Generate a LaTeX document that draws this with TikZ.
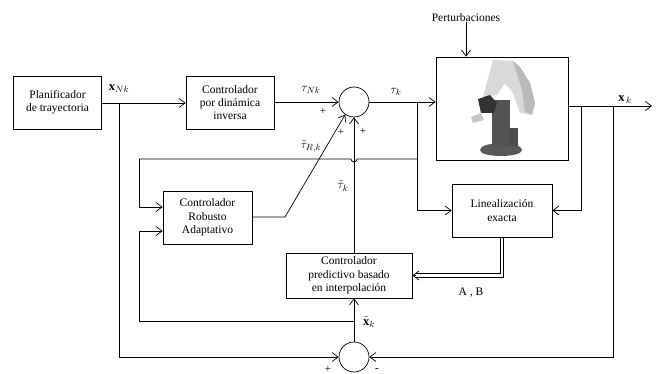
\documentclass[tikz,border=0pt]{standalone}
\usepackage{fontspec}
\setmainfont{Liberation Serif}
\usetikzlibrary{arrows.meta,calc}
\begin{document}
\begin{tikzpicture}[x=1pt,y=-1pt,line width=0.7pt,
  blk/.style={draw,rectangle,align=center,font=\fontsize{11.5}{13.3}\selectfont,inner sep=1pt},
  sumc/.style={draw,circle,minimum size=30pt,inner sep=0pt},
  arr/.style={-{Straight Barb[length=6pt,width=9pt]}},
  lbl/.style={font=\fontsize{12.5}{13}\selectfont,inner sep=0pt},
  sgn/.style={font=\fontsize{11}{12}\selectfont,inner sep=0pt}]
\useasboundingbox (0,0) rectangle (656,374);
% blocks
\node[blk,minimum width=88pt,minimum height=53pt] (plan) at (57.5,102.5) {Planificador\\de trayectoria};
\node[blk,minimum width=88pt,minimum height=53pt] (dyn) at (230,102.5) {Controlador\\por dinámica\\inversa};
\node[sumc] (s1) at (354,102) {};
\node[draw,rectangle,minimum width=132pt,minimum height=103pt,inner sep=0pt] (plant) at (502,108.5) {};
\node[blk,minimum width=100pt,minimum height=53pt] (lin) at (502,210.5) {Linealización\\exacta};
\node[blk,minimum width=89pt,minimum height=53pt] (rob) at (207.5,217.5) {Controlador\\Robusto\\Adaptativo};
\node[blk,minimum width=126pt,minimum height=45pt] (pred) at (349,275.5) {Controlador\\predictivo basado\\en interpolación};
\node[sumc] (s2) at (354,357) {};
\node[lbl,font=\fontsize{11.5}{13}\selectfont] (pert) at (466,18) {Perturbaciones};
% robot sketch inside the plant
\fill[gray!70!black] (480,150) .. controls (480,141) and (522,141) .. (522,150) .. controls (522,158) and (480,158) .. (480,150) -- cycle;
\fill[gray!65!black] (492,100) rectangle (510,147);
\fill[gray!60!black] (510,128) rectangle (518,146);
\fill[gray!30] (483,97) -- (493,60) -- (513,61) -- (520,67) -- (530,83) -- (535,103) -- (532,115) -- (520,113) -- (513,93) -- (508,87) -- (503,86) -- (497,95) -- cycle;
\fill[gray!55] (513,61) -- (520,67) -- (530,83) -- (535,103) -- (532,115) -- (525,112) -- (522,90) -- cycle;
\fill[white] (501,92) -- (504,84) -- (508,87) -- (510,95) -- cycle;
\fill[black!80] (478,99) -- (490,95) -- (497,103) -- (494,113) -- (481,113) -- cycle;
\fill[gray!45] (471,117) -- (481,113) -- (484,120) -- (473,123) -- cycle;
% output coordinates
\coordinate (outend) at (652,106);
\coordinate (b1) at (581,106);
\coordinate (b2) at (613,106);
\coordinate (tb) at (417,102);
\coordinate (pb) at (119,103);
\coordinate (rb) at (139,159);
\coordinate (xb) at (354,321);
\coordinate (rk) at (285,217);
% main path
\draw[arr] (plan.east |- pb) -- (dyn.west |- pb);
\draw[arr] (dyn.east |- s1.west) -- (s1.west);
\draw[arr] (s1.east) -- (s1.east -| plant.west);
\draw[arr] (plant.east |- outend) -- (outend);
\draw[arr] (pert.south) -- (pert.south |- plant.north);
% feedback branches
\draw[arr] (b1) |- (lin.east);
\draw[arr] (b2) |- (s2.east);
\draw[arr] (tb) |- (lin.west);
\draw (417,159) -- (357,159) arc[start angle=0,end angle=180,radius=3] -- (rb);
\draw[arr] (rb) |- (rob.west |- 0,207);
\draw[arr] (rob.east |- rk) -- (rk) -- (s1.235);
\draw[arr] (pred.north -| s1) -- (s1.south);
\draw[arr] (s2.north) -- (s2.north |- pred.south);
\draw[arr] (xb) -| (139,231) -- (rob.west |- 0,231);
\draw[arr] (pb) |- (s2.west);
% double line A,B
\draw ($(lin.south)+(-1.8,0)$) |- ($(pred.east)+(3,-1.8)$);
\draw ($(lin.south)+(1.8,0)$) |- ($(pred.east)+(3,1.8)$);
\draw[arr] ($(pred.east)+(4,0)$) -- (pred.east);
% labels
\node[lbl] (lxn) at (119,89) {$\mathbf{x}_{Nk}$};
\node[lbl] (ltn) at (311,90) {$\tau_{Nk}$};
\node[lbl] (ltk) at (396,92) {$\tau_{k}$};
\node[lbl] (lxk) at (625,100) {$\mathbf{x}_{\,k}$};
\node[lbl] (ltr) at (311,146) {$\tilde{\tau}_{R,k}$};
\node[lbl] (ltt) at (343,186) {$\tilde{\tau}_{k}$};
\node[lbl] (lxt) at (369,322) {$\tilde{\mathbf{x}}_{k}$};
\node[lbl,font=\fontsize{11.5}{13}\selectfont] (lab) at (471,293) {A , B};
\node[sgn] (p1) at (323,111) {+};
\node[sgn] (p2) at (341,132) {+};
\node[sgn] (p3) at (363,131) {+};
\node[sgn] (p4) at (328,369) {+};
\node[sgn] (m1) at (377,370) {-};
\end{tikzpicture}
\end{document}
